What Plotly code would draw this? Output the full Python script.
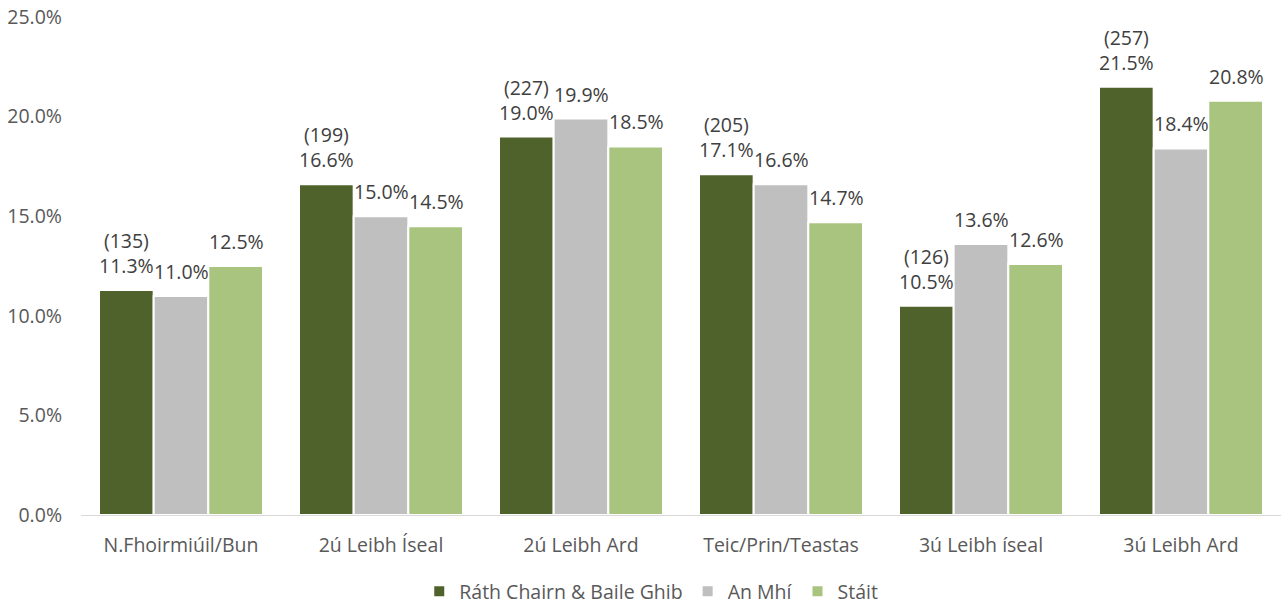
import plotly.graph_objects as go

categories = ["N.Fhoirmiúil/Bun", "2ú Leibh Íseal", "2ú Leibh Ard", "Teic/Prin/Teastas", "3ú Leibh íseal", "3ú Leibh Ard"]
series_names = ["Ráth Chairn & Baile Ghib", "An Mhí", "Stáit"]
local_values = [11.3, 16.6, 19.0, 17.1, 10.5, 21.5]
local_counts = [135, 199, 227, 205, 126, 257]
meath_values = [11.0, 15.0, 19.9, 16.6, 13.6, 18.4]
state_values = [12.5, 14.5, 18.5, 14.7, 12.6, 20.8]
colors = ["#4F622B", "#BFBFBF", "#A9C47F"]
y_ticks = [0, 5, 10, 15, 20, 25]

font_family = "'Open Sans', sans-serif"
label_color = "#404040"
axis_color = "#595959"
fs = 19.5

fig = go.Figure()
all_values = [local_values, meath_values, state_values]
for i, (name, vals) in enumerate(zip(series_names, all_values)):
    fig.add_trace(go.Bar(
        x=categories, y=vals, name=name,
        marker=dict(color=colors[i], line=dict(color="white", width=2)),
        hoverinfo="x+y+name",
    ))

# data labels as annotations anchored on each bar top
offsets = [-55, 0, 55]
for i, vals in enumerate(all_values):
    for j, (cat, v) in enumerate(zip(categories, vals)):
        if i == 0:
            txt = f"({local_counts[j]})<br>{v:.1f}%"
        else:
            txt = f"{v:.1f}%"
        fig.add_annotation(
            x=cat, y=v, xref="x", yref="y", text=txt, showarrow=False,
            xanchor="center", yanchor="bottom", xshift=offsets[i], yshift=9,
            font=dict(size=fs, color=label_color, family=font_family),
        )

fig.update_layout(
    width=1282, height=606,
    margin=dict(l=81, r=1, t=17, b=91),
    paper_bgcolor="white", plot_bgcolor="white",
    barmode="group", bargap=0.18, bargroupgap=0.0,
    font=dict(family=font_family, size=fs, color=axis_color),
    showlegend=True,
    legend=dict(orientation="h", x=0.508, xanchor="center", xref="container",
                y=0.024, yanchor="middle", yref="container",
                font=dict(size=fs, color=axis_color), traceorder="normal"),
)
fig.update_yaxes(range=[0, 25], tickvals=y_ticks, ticktext=[f"{t:.1f}%" for t in y_ticks],
                 showgrid=False, zeroline=False, showline=False, ticks="", ticklabelstandoff=18,
                 automargin=False)
fig.update_xaxes(showgrid=False, showline=True, linecolor="#D9D9D9", linewidth=1, ticks="",
                 ticklabelstandoff=13, automargin=False)

fig.write_html("out.html", config={"displayModeBar": False},
               post_script="document.body.style.margin='0';")
